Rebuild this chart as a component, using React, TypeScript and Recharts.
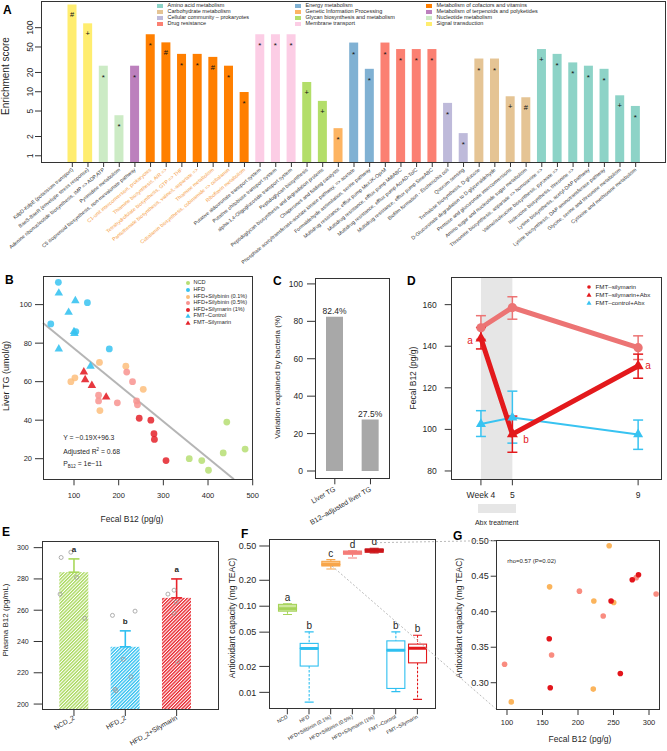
import React from 'react';
import {
  BarChart,
  Bar,
  XAxis,
  YAxis,
  LabelList,
  ScatterChart,
  Scatter,
  ReferenceLine,
  ReferenceArea,
  LineChart,
  Line,
  ErrorBar,
  ComposedChart,
} from 'recharts';

const FONT = '"Liberation Sans", Arial, Helvetica, sans-serif';
const INK = '#1f1f1f';
const AXIS = '#333333';

// ---------- A: module enrichment ----------
const moduleCategories = [
  'Amino acid metabolism',
  'Carbohydrate metabolism',
  'Cellular community – prokaryotes',
  'Drug resistance',
  'Energy metabolism',
  'Genetic Information Processing',
  'Glycan biosynthesis and metabolism',
  'Membrane transport',
  'Metabolism of cofactors and vitamins',
  'Metabolism of terpenoids and polyketides',
  'Nucleotide metabolism',
  'Signal transduction',
];
const categoryColors = ['#8DD3C7', '#E5C494', '#BEBADA', '#FB8072', '#80B1D3', '#FDB462', '#B3DE69', '#FCCDE5', '#FF7F00', '#BC80BD', '#CCEBC5', '#FFED6F'];
const modules = [
  'KdpD-KdpE (potassium transport)',
  'BaeS-BaeR (envelope stress response)',
  'Adenine ribonucleotide biosynthesis, IMP => ADP,ATP',
  'Pyrimidine metabolism',
  'C5 isoprenoid biosynthesis, non-mevalonate pathway',
  'C1-unit interconversion, prokaryotes',
  'Thiamine biosynthesis, AIR =>',
  'Tetrahydrofolate biosynthesis, GTP => THF',
  'Pantothenate biosynthesis, valine/L-aspartate =>',
  'Thiamine metabolism',
  'Cobalamin biosynthesis, cobinamide => cobalamin',
  'Riboflavin metabolism',
  'Putative aldouronate transport system',
  'Putative chitobiose transport system',
  'alpha-1,4-Oligoglucoside transport system',
  'Peptidoglycan biosynthesis',
  'Peptidoglycan biosynthesis and degradation proteins',
  'Chaperones and folding catalysts',
  'Phosphate acetyltransferase-acetate kinase pathway, => acetate',
  'Formaldehyde assimilation, serine pathway',
  'Multidrug resistance, efflux pump MexJK-OprM',
  'Multidrug resistance, efflux pump MdtABC',
  'Multidrug resistance, efflux pump AcrAD-TolC',
  'Multidrug resistance, efflux pump SmeABC',
  'Biofilm formation - Escherichia coli',
  'Quorum sensing',
  'Trehalose biosynthesis, D-glucose',
  'D-Glucuronate degradation to D-glyceraldehyde',
  'Pentose and glucuronate interconversions',
  'Amino sugar and nucleotide sugar metabolism',
  'Threonine biosynthesis, aspartate => homoserine =>',
  'Valine/isoleucine biosynthesis, pyruvate =>',
  'Isoleucine biosynthesis, threonine =>',
  'Lysine biosynthesis, acetyl-DAP pathway',
  'Lysine biosynthesis, DAP aminotransferase pathway',
  'Glycine, serine and threonine metabolism',
  'Cysteine and methionine metabolism',
];
const moduleCategory = [11, 11, 10, 10, 9, 8, 8, 8, 8, 8, 8, 8, 7, 7, 7, 6, 6, 5, 4, 4, 3, 3, 3, 3, 2, 2, 1, 1, 1, 1, 0, 0, 0, 0, 0, 0, 0];
const enrichment = [230, 117, 25.5, 4.3, 25.5, 79, 59, 39, 39, 35, 25.5, 9.9, 79, 79, 79, 14.2, 7.2, 2.7, 58.6, 22.8, 58.6, 46.4, 46.4, 46.4, 6.7, 2.26, 33, 33, 8.5, 8.2, 46.4, 39, 28.7, 25.5, 22.8, 8.8, 6.0];
const significance = ['#', '+', '*', '*', '*', '*', '#', '*', '*', '#', '*', '*', '*', '*', '*', '+', '+', '*', '*', '*', '*', '*', '*', '*', '*', '*', '*', '*', '+', '#', '+', '*', '*', '*', '*', '+', '*'];
const enrichTicks = [1, 2, 5, 10, 20, 50, 100];

// ---------- B: fecal B12 vs liver TG ----------
const fecalNCD = [442, 434, 358, 386, 401, 483];
const liverNCD = [39, 23, 20, 19, 14, 25];
const fecalHFD = [130, 48, 104, 179, 65];
const liverHFD = [101, 90, 86, 77, 111.6];
const fecalSil01 = [157, 216, 93, 102, 255, 158];
const liverSil01 = [70, 68, 60, 62, 56, 45];
const fecalSil05 = [218, 231, 155, 155, 197, 240, 242];
const liverSil05 = [65, 60, 53, 50, 49, 50, 48];
const fecalSily1 = [246, 272, 279, 280, 306];
const liverSily1 = [41, 40, 33, 30, 19];
const fecalFmtCtrl = [66, 103, 88, 100, 101, 66, 137];
const liverFmtCtrl = [106, 102, 96, 86, 85, 77, 68];
const fecalFmtSily = [122, 125, 140, 172];
const liverFmtSily = [65, 61, 58, 52];
const fitSlope = -0.19;
const fitIntercept = 96.3;

// ---------- C: variation explained ----------
const varLabels = ['Liver TG', 'B12–adjusted liver TG'];
const varExplained = [82.4, 27.5];

// ---------- D: fecal B12 over time ----------
const weeks = [4, 5, 9];
const silMean = [148.9, 158.6, 139.3];
const silLow = [143.3, 153, 133.6];
const silHigh = [154.7, 163.8, 145];
const silAbxMean = [143.8, 97.7, 130.5];
const silAbxLow = [138.7, 89, 124.6];
const silAbxHigh = [149, 106.4, 136.2];
const ctrlAbxMean = [102.6, 105.7, 97.6];
const ctrlAbxLow = [96.6, 93.4, 90.4];
const ctrlAbxHigh = [109, 118.4, 104.5];
const silAbxLetters = ['a', 'b', 'a'];

// ---------- E: plasma B12 ----------
const plasmaGroups = ['NCD_2', 'HFD_2', 'HFD_2+Silymarin'];
const plasmaMean = [284.3, 236.6, 267.9];
const plasmaUpper = [292.8, 246.8, 280];
const plasmaLetters = ['a', 'b', 'a'];
const plasmaPoints = [
  [297.1, 293.7, 281, 270.3, 254.8],
  [256.7, 259.4, 228.6, 217.4, 209.4, 208.5],
  [270.3, 272.8, 265.2, 258, 227],
];
const plasmaJitter = [
  [-0.06, -0.25, 0.05, -0.27, 0.21],
  [-0.25, 0.19, -0.04, 0.11, -0.2, -0.18],
  [-0.17, -0.05, -0.01, -0.05, 0.02],
];

// ---------- F: antioxidant capacity ----------
const antiGroups = ['NCD', 'HFD', 'HFD+Silibinin (0.1%)', 'HFD+Silibinin (0.5%)', 'HFD+Silymarin (1%)', 'FMT–Control', 'FMT–Silymarin'];
const antiMin = [0.08, 0.0077, 0.27, 0.363, 0.415, 0.0102, 0.0083];
const antiQ1 = [0.0876, 0.0202, 0.293, 0.401, 0.423, 0.0111, 0.022];
const antiMedian = [0.094, 0.0324, 0.306, 0.42, 0.45, 0.0309, 0.0326];
const antiQ3 = [0.105, 0.037, 0.332, 0.437, 0.461, 0.0396, 0.0363];
const antiMax = [0.107, 0.0504, 0.347, 0.44, 0.47, 0.0504, 0.0461];
const antiLetters = ['a', 'b', 'c', 'd', 'd', 'b', 'b'];
const antiTicks = [0.01, 0.02, 0.05, 0.1, 0.2, 0.5];

// ---------- G: fecal B12 vs antioxidant ----------
const gFecal01 = [243.9, 160, 222.3, 250.3, 221.5, 106];
const gAnti01 = [0.493, 0.435, 0.415, 0.413, 0.291, 0.273];
const gFecal05 = [202, 310, 235.5, 162.8, 96.6, 282];
const gAnti05 = [0.429, 0.425, 0.394, 0.339, 0.326, 0.448];
const gFecal1 = [285.2, 276.4, 246.6, 159.5, 259.6, 160.9];
const gAnti1 = [0.452, 0.445, 0.415, 0.362, 0.313, 0.293];

// colours
const GREEN = '#B6DE73';
const BLUE = '#38C3F1';
const ORANGE = '#FDBE7C';
const SALMON = '#F8938F';
const RED = '#E4222A';

// ---------- layout ----------
const boxA = { left: 0, top: 0, w: 667, h: 282 };
const boxB = { left: 0, top: 268, w: 262, h: 262 };
const boxC = { left: 268, top: 268, w: 127, h: 262 };
const boxD = { left: 400, top: 268, w: 267, h: 262 };
const boxE = { left: 0, top: 530, w: 225, h: 221 };
const boxF = { left: 225, top: 530, w: 215, h: 221 };
const boxG = { left: 440, top: 530, w: 227, h: 221 };

const plotA = { l: 41, t: 1, r: 665, b: 162 };
const plotB = { l: 43, t: 276.7, r: 252.7, b: 479.3 };
const plotC = { l: 315, t: 278.3, r: 389.3, b: 478.3 };
const plotD = { l: 451.7, t: 277, r: 661.7, b: 479.3 };
const plotE = { l: 42.7, t: 541.7, r: 218.3, b: 710 };
const plotF = { l: 269.3, t: 539.3, r: 436, b: 708.3 };
const plotG = { l: 496.7, t: 540, r: 659.3, b: 709 };

const layout = (box: any, plot: any) => ({
  margin: { top: plot.t - box.top, right: box.left + box.w - plot.r, bottom: 0, left: 0 },
  yW: plot.l - box.left,
  xH: box.top + box.h - plot.b,
});

const Frame = ({ p }: any) => (
  <div
    style={{
      position: 'absolute',
      left: p.l - 0.5,
      top: p.t - 0.5,
      width: p.r - p.l + 1,
      height: p.b - p.t + 1,
      border: `1px solid ${AXIS}`,
      boxSizing: 'border-box',
      pointerEvents: 'none',
    }}
  />
);

const Txt = ({ x, y, size, children, anchor = 'left', bold, color }: any) => {
  const tx = anchor === 'left' ? '0' : anchor === 'center' ? '-50%' : '-100%';
  return (
    <div
      style={{
        position: 'absolute',
        left: x,
        top: y,
        transform: `translate(${tx}, -50%)`,
        fontSize: size,
        fontWeight: bold ? 700 : 400,
        color: color || INK,
        whiteSpace: 'nowrap',
        lineHeight: 1,
      }}
    >
      {children}
    </div>
  );
};

const VTxt = ({ x, y, size, children }: any) => (
  <div
    style={{
      position: 'absolute',
      left: x,
      top: y,
      transform: 'translate(-50%, -50%) rotate(-90deg)',
      fontSize: size,
      whiteSpace: 'nowrap',
      lineHeight: 1,
      color: INK,
    }}
  >
    {children}
  </div>
);

const PanelLetter = ({ x, y, ch }: any) => (
  <div style={{ position: 'absolute', left: x, top: y, fontSize: 12, fontWeight: 700, lineHeight: 1, color: '#000' }}>{ch}</div>
);

const angledTick = (angle: number, size: number, colorOf?: (v: string) => string) => (p: any) => (
  <text
    x={p.x}
    y={p.y}
    transform={`rotate(${angle} ${p.x} ${p.y})`}
    textAnchor="end"
    dy="0.35em"
    fontSize={size}
    fill={colorOf ? colorOf(p.payload.value) : INK}
  >
    {p.payload.value}
  </text>
);

const triPoints = (cx: number, cy: number, s: number) =>
  `${cx},${cy - s * 0.58} ${cx - s / 2},${cy + s * 0.29} ${cx + s / 2},${cy + s * 0.29}`;

// ---------- Panel A ----------
function PanelA() {
  const L = layout(boxA, plotA);
  const data = modules.map((name, i) => ({ name, score: enrichment[i], mark: significance[i], cat: moduleCategory[i] }));
  const labelColor = (v: string) => (moduleCategory[modules.indexOf(v)] === 8 ? '#F59A3C' : '#333');
  const upTick = (p: any) => (
    <text x={p.x} y={p.y} transform={`rotate(-90 ${p.x} ${p.y})`} textAnchor="middle" fontSize={8.5} fill={INK}>
      {p.payload.value}
    </text>
  );
  const moduleBar = (p: any) => {
    const mark = p.payload.mark;
    return (
      <g>
        <rect x={p.x} y={p.y} width={p.width} height={p.height} fill={categoryColors[p.payload.cat]} />
        <text
          x={p.x + p.width / 2}
          y={p.y + (mark === '*' ? 14 : 12.8)}
          textAnchor="middle"
          fontSize={mark === '*' ? 8 : 7.5}
          fill="#111"
        >
          {mark}
        </text>
      </g>
    );
  };
  return (
    <div style={{ position: 'absolute', left: boxA.left, top: boxA.top }}>
      <BarChart width={boxA.w} height={boxA.h} data={data} margin={L.margin}>
        <XAxis
          dataKey="name"
          interval={0}
          height={L.xH}
          tickSize={5}
          tickMargin={2}
          axisLine={false}
          stroke={AXIS}
          padding={{ left: 23.5, right: 21.5 }}
          tick={angledTick(-40, 5.1, labelColor)}
        />
        <YAxis
          type="number"
          scale="log"
          domain={[0.8, 261]}
          allowDataOverflow
          ticks={enrichTicks}
          interval={0}
          width={L.yW}
          tickSize={6}
          tickMargin={2}
          axisLine={false}
          stroke={AXIS}
          tick={upTick}
        />
        <Bar dataKey="score" barSize={9} shape={moduleBar} isAnimationActive={false} />
      </BarChart>
    </div>
  );
}

const legendColX = [157, 295, 426];
const legendRowY = [6, 12, 18, 23.8];

function LegendA() {
  return (
    <>
      {moduleCategories.map((name, i) => {
        const col = Math.floor(i / 4);
        const row = i % 4;
        return (
          <React.Fragment key={name}>
            <div
              style={{
                position: 'absolute',
                left: legendColX[col],
                top: legendRowY[row] - 2.2,
                width: 6,
                height: 4.4,
                background: categoryColors[i],
              }}
            />
            <Txt x={legendColX[col] + 10.5} y={legendRowY[row]} size={5.5}>
              {name}
            </Txt>
          </React.Fragment>
        );
      })}
    </>
  );
}

// ---------- Panel B ----------
const seriesB = [
  { name: 'NCD', x: fecalNCD, y: liverNCD, color: GREEN, tri: false },
  { name: 'HFD', x: fecalHFD, y: liverHFD, color: BLUE, tri: false },
  { name: 'HFD+Silybinin (0.1%)', x: fecalSil01, y: liverSil01, color: ORANGE, tri: false },
  { name: 'HFD+Silybinin (0.5%)', x: fecalSil05, y: liverSil05, color: SALMON, tri: false },
  { name: 'HFD+Silymarin (1%)', x: fecalSily1, y: liverSily1, color: RED, tri: false },
  { name: 'FMT–Control', x: fecalFmtCtrl, y: liverFmtCtrl, color: BLUE, tri: true },
  { name: 'FMT–Silymarin', x: fecalFmtSily, y: liverFmtSily, color: RED, tri: true },
];
const xDomainB = [30.6, 500];
const yDomainB = [9.3, 114.5];

function PanelB() {
  const L = layout(boxB, plotB);
  const x0 = xDomainB[0];
  const x1 = (yDomainB[0] - fitIntercept) / fitSlope;
  return (
    <div style={{ position: 'absolute', left: boxB.left, top: boxB.top }}>
      <ScatterChart width={boxB.w} height={boxB.h} margin={L.margin}>
        <XAxis
          type="number"
          dataKey="x"
          domain={xDomainB}
          allowDataOverflow
          ticks={[100, 200, 300, 400, 500]}
          height={L.xH}
          tickSize={6}
          tickMargin={7}
          axisLine={false}
          stroke={AXIS}
          tick={{ fontSize: 7.5, fill: INK }}
        />
        <YAxis
          type="number"
          dataKey="y"
          domain={yDomainB}
          allowDataOverflow
          ticks={[20, 40, 60, 80, 100]}
          width={L.yW}
          tickSize={8}
          tickMargin={3}
          axisLine={false}
          stroke={AXIS}
          tick={{ fontSize: 7.5, fill: INK }}
        />
        <ReferenceLine
          segment={[
            { x: x0, y: fitIntercept + fitSlope * x0 },
            { x: x1, y: fitIntercept + fitSlope * x1 },
          ]}
          stroke="#B5B5B5"
          strokeWidth={2}
          ifOverflow="visible"
        />
        {seriesB.map((s) => (
          <Scatter
            key={s.name}
            data={s.x.map((x, i) => ({ x, y: s.y[i] }))}
            isAnimationActive={false}
            shape={(p: any) =>
              s.tri ? (
                <polygon points={triPoints(p.cx, p.cy, 8.5)} fill={s.color} fillOpacity={0.9} />
              ) : (
                <circle cx={p.cx} cy={p.cy} r={3.4} fill={s.color} fillOpacity={0.85} />
              )
            }
          />
        ))}
      </ScatterChart>
    </div>
  );
}

const legendRowsB = [283.3, 290, 296.6, 303, 309.5, 316, 322.5];

function LegendB() {
  return (
    <>
      {seriesB.map((s, i) => (
        <React.Fragment key={s.name}>
          <svg style={{ position: 'absolute', left: 185, top: legendRowsB[i] - 3 }} width={6} height={6}>
            {s.tri ? <polygon points={triPoints(3, 3.3, 5)} fill={s.color} /> : <circle cx={3} cy={3} r={2} fill={s.color} />}
          </svg>
          <Txt x={193.5} y={legendRowsB[i]} size={5.6}>
            {s.name}
          </Txt>
        </React.Fragment>
      ))}
    </>
  );
}

// ---------- Panel C ----------
function PanelC() {
  const L = layout(boxC, plotC);
  const data = varLabels.map((label, i) => ({ label, pct: varExplained[i] }));
  return (
    <div style={{ position: 'absolute', left: boxC.left, top: boxC.top }}>
      <BarChart width={boxC.w} height={boxC.h} data={data} margin={L.margin}>
        <XAxis
          dataKey="label"
          interval={0}
          height={L.xH}
          padding={{ left: 2, right: 1 }}
          tickSize={6}
          tickMargin={4}
          axisLine={false}
          stroke={AXIS}
          tick={angledTick(-30, 7)}
        />
        <YAxis
          type="number"
          domain={[-3.9, 103]}
          allowDataOverflow
          ticks={[0, 20, 40, 60, 80, 100]}
          width={L.yW}
          tickSize={8}
          tickMargin={4}
          axisLine={false}
          stroke={AXIS}
          tick={{ fontSize: 8.5, fill: INK }}
        />
        <Bar dataKey="pct" barSize={17} fill="#A8A8A8" isAnimationActive={false}>
          <LabelList dataKey="pct" position="top" offset={3} formatter={(v: any) => `${v}%`} fontSize={8.5} fill={INK} />
        </Bar>
      </BarChart>
    </div>
  );
}

// ---------- Panel D ----------
const SIL_LINE = '#EC7474';
const abxLetterOffset = [
  [-11, 5.3],
  [13.7, 8.6],
  [10, 2.6],
];

function PanelD() {
  const L = layout(boxD, plotD);
  const data = weeks.map((week, i) => ({
    week,
    sil: silMean[i],
    silErr: [silMean[i] - silLow[i], silHigh[i] - silMean[i]],
    silAbx: silAbxMean[i],
    silAbxErr: [silAbxMean[i] - silAbxLow[i], silAbxHigh[i] - silAbxMean[i]],
    ctrlAbx: ctrlAbxMean[i],
    ctrlAbxErr: [ctrlAbxMean[i] - ctrlAbxLow[i], ctrlAbxHigh[i] - ctrlAbxMean[i]],
  }));
  return (
    <div style={{ position: 'absolute', left: boxD.left, top: boxD.top }}>
      <LineChart width={boxD.w} height={boxD.h} data={data} margin={L.margin}>
        <XAxis
          type="number"
          dataKey="week"
          domain={[3.07, 9.75]}
          allowDataOverflow
          ticks={weeks}
          tickFormatter={(v: number) => (v === 4 ? 'Week 4' : String(v))}
          height={L.xH}
          tickSize={6}
          tickMargin={7}
          axisLine={false}
          stroke={AXIS}
          tick={{ fontSize: 8.5, fill: INK }}
        />
        <YAxis
          type="number"
          domain={[76, 173.3]}
          allowDataOverflow
          ticks={[80, 100, 120, 140, 160]}
          width={L.yW}
          tickSize={7}
          tickMargin={8}
          axisLine={false}
          stroke={AXIS}
          tick={{ fontSize: 8.5, fill: INK }}
        />
        <ReferenceArea x1={4} x2={5} fill="#E6E6E6" fillOpacity={1} stroke="none" />
        <Line
          dataKey="sil"
          stroke={SIL_LINE}
          strokeWidth={5}
          isAnimationActive={false}
          dot={(p: any) => <circle key={`s${p.index}`} cx={p.cx} cy={p.cy} r={4.6} fill={SIL_LINE} />}
        >
          <ErrorBar dataKey="silErr" width={5} stroke={SIL_LINE} strokeWidth={1.5} />
        </Line>
        <Line
          dataKey="ctrlAbx"
          stroke={BLUE}
          strokeWidth={2}
          isAnimationActive={false}
          dot={(p: any) => <polygon key={`c${p.index}`} points={triPoints(p.cx, p.cy, 10)} fill={BLUE} />}
        >
          <ErrorBar dataKey="ctrlAbxErr" width={5} stroke={BLUE} strokeWidth={1.5} />
        </Line>
        <Line
          dataKey="silAbx"
          stroke="#E3191C"
          strokeWidth={5}
          isAnimationActive={false}
          dot={(p: any) => (
            <g key={`a${p.index}`}>
              <polygon points={triPoints(p.cx, p.cy, 11)} fill="#E3191C" />
              <text
                x={p.cx + abxLetterOffset[p.index][0]}
                y={p.cy + abxLetterOffset[p.index][1]}
                textAnchor="middle"
                fontSize={10}
                fill="#E3191C"
              >
                {silAbxLetters[p.index]}
              </text>
            </g>
          )}
        >
          <ErrorBar dataKey="silAbxErr" width={5} stroke="#E3191C" strokeWidth={1.5} />
        </Line>
      </LineChart>
    </div>
  );
}

const legendD = [
  { name: 'FMT–silymarin', color: '#E3191C', tri: false },
  { name: 'FMT–silymarin+Abx', color: '#E3191C', tri: true },
  { name: 'FMT–control+Abx', color: BLUE, tri: true },
];
const legendRowsD = [286.5, 294.7, 303];

function LegendD() {
  return (
    <>
      {legendD.map((s, i) => (
        <React.Fragment key={s.name}>
          <svg style={{ position: 'absolute', left: 586.3, top: legendRowsD[i] - 3 }} width={6} height={6}>
            {s.tri ? <polygon points={triPoints(3, 3.3, 5)} fill={s.color} /> : <circle cx={3} cy={3} r={1.8} fill={s.color} />}
          </svg>
          <Txt x={595.5} y={legendRowsD[i]} size={6.2}>
            {s.name}
          </Txt>
        </React.Fragment>
      ))}
    </>
  );
}

// ---------- Panel E ----------
const plasmaColors = ['#A8D85A', '#2EBFF0', '#E8232B'];

function PanelE() {
  const L = layout(boxE, plotE);
  const bars = plasmaGroups.map((group, i) => ({ group, mean: plasmaMean[i], idx: i }));
  const dots = plasmaPoints.flatMap((vals, i) => vals.map((v, k) => ({ jx: i + plasmaJitter[i][k], v })));
  const letters = plasmaGroups.map((g, i) => ({ jx: i, v: plasmaUpper[i], letter: plasmaLetters[i] }));
  const pad = { left: 5.6, right: 16 };
  return (
    <div style={{ position: 'absolute', left: boxE.left, top: boxE.top }}>
      <ComposedChart width={boxE.w} height={boxE.h} data={bars} margin={L.margin}>
        <defs>
          {plasmaColors.map((c, i) => (
            <pattern key={c} id={`hatchE${i}`} width={2.4} height={2.4} patternUnits="userSpaceOnUse" patternTransform="rotate(45)">
              <rect width={2.4} height={2.4} fill="#ffffff" />
              <line x1={0.6} y1={0} x2={0.6} y2={2.4} stroke={c} strokeWidth={1.5} />
            </pattern>
          ))}
        </defs>
        <XAxis
          xAxisId="cat"
          dataKey="group"
          type="category"
          interval={0}
          height={L.xH}
          padding={pad}
          tickSize={6}
          tickMargin={1}
          axisLine={false}
          stroke={AXIS}
          tick={angledTick(-30, 6.8)}
        />
        <XAxis xAxisId="num" dataKey="jx" type="number" domain={[-0.5, 2.5]} padding={pad} hide />
        <YAxis
          dataKey="v"
          type="number"
          domain={[196.2, 303.8]}
          allowDataOverflow
          ticks={[200, 220, 240, 260, 280, 300]}
          width={L.yW}
          tickSize={9}
          tickMargin={5}
          axisLine={false}
          stroke={AXIS}
          tick={{ fontSize: 7, fill: INK }}
        />
        <Bar
          xAxisId="cat"
          dataKey="mean"
          barSize={29}
          isAnimationActive={false}
          shape={(p: any) => <rect x={p.x} y={p.y} width={p.width} height={p.height} fill={`url(#hatchE${p.payload.idx})`} />}
        />
        {plasmaGroups.map((g, i) => (
          <Scatter
            key={g}
            xAxisId="num"
            data={[{ jx: i, v: plasmaMean[i], err: [0, plasmaUpper[i] - plasmaMean[i]] }]}
            isAnimationActive={false}
            shape={() => <g />}
          >
            <ErrorBar dataKey="err" direction="y" width={5.5} stroke={plasmaColors[i]} strokeWidth={1.6} />
          </Scatter>
        ))}
        <Scatter
          xAxisId="num"
          data={dots}
          isAnimationActive={false}
          shape={(p: any) => <circle cx={p.cx} cy={p.cy} r={2} fill="none" stroke="#9A9A9A" strokeWidth={0.8} />}
        />
        <Scatter
          xAxisId="num"
          data={letters}
          isAnimationActive={false}
          shape={(p: any) => (
            <text x={p.cx} y={p.cy - 6.5} textAnchor="middle" fontSize={8} fontWeight={700} fill={INK}>
              {p.payload.letter}
            </text>
          )}
        />
      </ComposedChart>
    </div>
  );
}

// ---------- Panel F ----------
const antiFill = ['#CFE89F', '#FFFFFF', '#FDC583', '#F9918D', '#E3191C', '#FFFFFF', '#FFFFFF'];
const antiStroke = ['#A6D35A', '#2EBFF0', '#F7A54A', '#F47C78', '#C8151A', '#2EBFF0', '#E3191C'];

const span = (p: any) => ({
  top: Math.min(p.y, p.y + p.height),
  bottom: Math.max(p.y, p.y + p.height),
  cx: p.x + p.width / 2,
  left: p.x,
  w: p.width,
});

const whiskerShape = (end: 'low' | 'high') => (p: any) => {
  const s = span(p);
  const i = p.payload.idx;
  const c = antiStroke[i];
  const capY = end === 'low' ? s.bottom : s.top;
  return (
    <g>
      <line x1={s.cx} x2={s.cx} y1={s.top} y2={s.bottom} stroke={c} strokeWidth={1.1} strokeDasharray="2.5 1.5" />
      <line x1={s.cx - 4.5} x2={s.cx + 4.5} y1={capY} y2={capY} stroke={c} strokeWidth={1.1} />
      {end === 'high' && (
        <text x={s.cx} y={s.top - 3} textAnchor="middle" fontSize={10} fill={INK}>
          {p.payload.letter}
        </text>
      )}
    </g>
  );
};

const boxHalfShape = (half: 'lo' | 'hi') => (p: any) => {
  const s = span(p);
  const i = p.payload.idx;
  const medY = half === 'lo' ? s.top : s.bottom;
  return (
    <g>
      <rect x={s.left} y={s.top} width={s.w} height={s.bottom - s.top} fill={antiFill[i]} stroke={antiStroke[i]} strokeWidth={1.1} />
      <line x1={s.left} x2={s.left + s.w} y1={medY} y2={medY} stroke={antiStroke[i]} strokeWidth={2.6} />
    </g>
  );
};

function PanelF() {
  const L = layout(boxF, plotF);
  const data = antiGroups.map((group, i) => ({
    group,
    idx: i,
    letter: antiLetters[i],
    lowW: [antiMin[i], antiQ1[i]],
    boxLo: [antiQ1[i], antiMedian[i]],
    boxHi: [antiMedian[i], antiQ3[i]],
    highW: [antiQ3[i], antiMax[i]],
  }));
  return (
    <div style={{ position: 'absolute', left: boxF.left, top: boxF.top }}>
      <BarChart width={boxF.w} height={boxF.h} data={data} margin={L.margin} barGap={-18}>
        <XAxis
          dataKey="group"
          interval={0}
          height={L.xH}
          padding={{ left: 7.2, right: 7.8 }}
          tickSize={6}
          tickMargin={2}
          axisLine={false}
          stroke={AXIS}
          tick={angledTick(-28, 5.2)}
        />
        <YAxis
          type="number"
          scale="log"
          domain={[0.00653, 0.598]}
          allowDataOverflow
          ticks={antiTicks}
          interval={0}
          tickFormatter={(v: number) => v.toFixed(2)}
          width={L.yW}
          tickSize={10}
          tickMargin={3}
          axisLine={false}
          stroke={AXIS}
          tick={{ fontSize: 9, fill: INK }}
        />
        <Bar dataKey="lowW" barSize={18} shape={whiskerShape('low')} isAnimationActive={false} />
        <Bar dataKey="boxLo" barSize={18} shape={boxHalfShape('lo')} isAnimationActive={false} />
        <Bar dataKey="boxHi" barSize={18} shape={boxHalfShape('hi')} isAnimationActive={false} />
        <Bar dataKey="highW" barSize={18} shape={whiskerShape('high')} isAnimationActive={false} />
      </BarChart>
    </div>
  );
}

// ---------- Panel G ----------
const seriesG = [
  { x: gFecal01, y: gAnti01, color: '#FBB45C' },
  { x: gFecal05, y: gAnti05, color: '#F98C80' },
  { x: gFecal1, y: gAnti1, color: '#E3151B' },
];

function PanelG() {
  const L = layout(boxG, plotG);
  return (
    <div style={{ position: 'absolute', left: boxG.left, top: boxG.top }}>
      <ScatterChart width={boxG.w} height={boxG.h} margin={L.margin}>
        <XAxis
          type="number"
          dataKey="x"
          domain={[85.5, 314.5]}
          allowDataOverflow
          ticks={[100, 150, 200, 250, 300]}
          height={L.xH}
          tickSize={6}
          tickMargin={5}
          axisLine={false}
          stroke={AXIS}
          tick={{ fontSize: 7.5, fill: INK }}
        />
        <YAxis
          type="number"
          dataKey="y"
          domain={[0.263, 0.501]}
          allowDataOverflow
          ticks={[0.3, 0.35, 0.4, 0.45, 0.5]}
          tickFormatter={(v: number) => v.toFixed(2)}
          width={L.yW}
          tickSize={6}
          tickMargin={2}
          axisLine={false}
          stroke={AXIS}
          tick={{ fontSize: 9, fill: INK }}
        />
        {seriesG.map((s) => (
          <Scatter
            key={s.color}
            data={s.x.map((x, i) => ({ x, y: s.y[i] }))}
            isAnimationActive={false}
            shape={(p: any) => <circle cx={p.cx} cy={p.cy} r={2.8} fill={s.color} />}
          />
        ))}
      </ScatterChart>
    </div>
  );
}

export default function App() {
  return (
    <div
      style={{
        position: 'absolute',
        left: 0,
        top: 0,
        width: 667,
        height: 751,
        background: '#fff',
        fontFamily: FONT,
        color: INK,
        overflow: 'hidden',
      }}
    >
      <PanelB />
      <PanelC />
      <PanelD />
      <PanelE />
      <PanelF />
      <PanelG />
      <PanelA />

      {[plotA, plotB, plotC, plotD, plotE, plotF, plotG].map((p, i) => (
        <Frame key={i} p={p} />
      ))}

      <LegendA />
      <LegendB />
      <LegendD />

      {/* panel letters */}
      <PanelLetter x={3} y={3.5} ch="A" />
      <PanelLetter x={5} y={274} ch="B" />
      <PanelLetter x={273} y={275} ch="C" />
      <PanelLetter x={407} y={275} ch="D" />
      <PanelLetter x={2} y={525.5} ch="E" />
      <PanelLetter x={241} y={528} ch="F" />
      <PanelLetter x={453} y={530} ch="G" />

      {/* axis titles */}
      <VTxt x={6} y={76} size={10}>Enrichment score</VTxt>
      <VTxt x={6} y={376} size={9}>Liver TG (umol/g)</VTxt>
      <Txt x={132} y={519.3} size={8.5} anchor="center">Fecal B12 (pg/g)</Txt>
      <VTxt x={277.5} y={376.5} size={8}>Variation explained by bacteria (%)</VTxt>
      <VTxt x={413.3} y={377.5} size={8.5}>Fecal B12 (pg/g)</VTxt>
      <VTxt x={5.5} y={620} size={8}>Plasma B12 (pg/mL)</VTxt>
      <VTxt x={231.7} y={617.5} size={8.5}>Antioxidant capacity (mg TEAC)</VTxt>
      <VTxt x={459.3} y={618} size={8.5}>Antioxidant capacity (mg TEAC)</VTxt>
      <Txt x={580} y={739.3} size={8.5} anchor="center">Fecal B12 (pg/g)</Txt>

      {/* B annotations */}
      <Txt x={63.3} y={437.7} size={6.8}>Y = −0.19X+96.3</Txt>
      <Txt x={63.3} y={451.7} size={6.8}>
        Adjusted R<sup style={{ fontSize: 4.5 }}>2</sup> = 0.68
      </Txt>
      <Txt x={63.3} y={464.5} size={6.8}>
        P<sub style={{ fontSize: 4.5 }}>B12</sub> = 1e−11
      </Txt>

      {/* D: antibiotic window */}
      <div style={{ position: 'absolute', left: 478.3, top: 504, width: 37.7, height: 8.7, background: '#E6E6E6' }} />
      <Txt x={496.7} y={521.7} size={7} anchor="center">Abx treatment</Txt>

      {/* G annotation */}
      <Txt x={507.3} y={561} size={6}>rho=0.57 (P=0.02)</Txt>

      {/* F -> G zoom connectors */}
      <svg style={{ position: 'absolute', left: 0, top: 0, pointerEvents: 'none' }} width={667} height={751}>
        <line x1={376} y1={542.7} x2={495.5} y2={540.5} stroke="#A8A8A8" strokeWidth={0.8} strokeDasharray="2 2" />
        <line x1={332} y1={566} x2={495.5} y2={708.5} stroke="#A8A8A8" strokeWidth={0.8} strokeDasharray="2 2" />
      </svg>
    </div>
  );
}
